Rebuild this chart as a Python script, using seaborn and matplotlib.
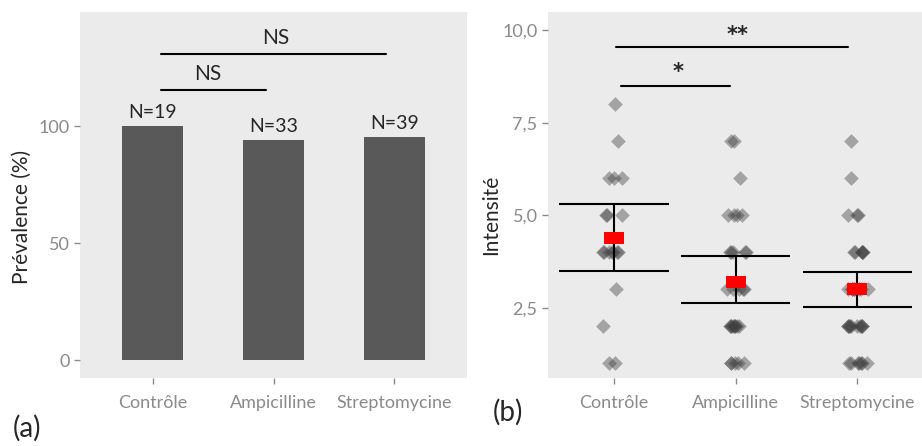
import numpy as np
import pandas as pd
import seaborn as sns
import matplotlib.pyplot as plt

groupes = ["Contrôle", "Ampicilline", "Streptomycine"]
prevalence = [100, 94, 95.4]
effectifs = ["N=19", "N=33", "N=39"]

# intensités (b)
int_controle = [8, 7, 6, 6, 6, 5, 5, 5, 4, 4, 4, 4, 4, 4, 4, 3, 2, 1, 1]
int_ampicilline = [7, 7, 6, 5, 5, 5, 5, 4, 4, 4, 4, 4, 3, 3, 3, 3, 3,
                   2, 2, 2, 2, 2, 2, 2, 2, 2, 1, 1, 1, 1, 1]
int_streptomycine = [7, 6, 5, 5, 5, 4, 4, 4, 4, 4, 4, 3, 3, 3, 3, 3, 3, 3, 3, 3,
                     2, 2, 2, 2, 2, 2, 2, 2, 2, 2, 1, 1, 1, 1, 1, 1, 1]
moyennes = [4.38, 3.2, 3.0]
ic_bas = [3.49, 2.62, 2.51]
ic_haut = [5.3, 3.89, 3.46]

sns.set_style("white")
plt.rcParams['font.family'] = ['Lato', 'DejaVu Sans']
gris = "#8a8a8a"
fond = "#ebebeb"

fig = plt.figure(figsize=(9.22, 4.46), dpi=100)
ax1 = fig.add_axes([80/922, 68/446, 387/922, 366/446])
ax2 = fig.add_axes([548/922, 68/446, 374/922, 366/446])

# (a) prévalence
dfa = pd.DataFrame({"groupe": groupes, "prev": prevalence})
sns.barplot(data=dfa, x="groupe", y="prev", color="#595959", width=0.5,
            saturation=1, linewidth=0, ax=ax1)
for i, (p, n) in enumerate(zip(prevalence, effectifs)):
    ax1.text(i, p + 2, n, ha="center", va="bottom", fontsize=14)
ax1.plot([0.07, 0.94], [115.4, 115.4], color="black", lw=1.5)
ax1.plot([0.07, 1.93], [130.8, 130.8], color="black", lw=1.5)
ax1.text(0.46, 118, "NS", ha="center", va="bottom", fontsize=15)
ax1.text(1.02, 133.5, "NS", ha="center", va="bottom", fontsize=15)
ax1.set_xlim(-0.6, 2.6)
ax1.set_ylim(-7.5, 148.7)
ax1.set_yticks([0, 50, 100])
ax1.set_ylabel("Prévalence (%)", fontsize=15)
ax1.yaxis.set_label_coords(-0.125, 0.44)
ax1.set_xlabel("")

# (b) intensité
dfb = pd.DataFrame({
    "groupe": ["Contrôle"] * len(int_controle) + ["Ampicilline"] * len(int_ampicilline)
              + ["Streptomycine"] * len(int_streptomycine),
    "intensite": int_controle + int_ampicilline + int_streptomycine,
})
np.random.seed(3)
sns.stripplot(data=dfb, x="groupe", y="intensite", order=groupes, marker="D",
              color="#404040", alpha=0.42, size=7.5, jitter=0.09, linewidth=0, ax=ax2)
xs = np.arange(len(groupes))
ax2.vlines(xs, ic_bas, ic_haut, color="black", lw=1.5, zorder=4)
ax2.hlines(ic_bas, xs - 0.45, xs + 0.45, color="black", lw=1.5, zorder=4)
ax2.hlines(ic_haut, xs - 0.45, xs + 0.45, color="black", lw=1.5, zorder=4)
rect = [(-1, -0.58), (1, -0.58), (1, 0.58), (-1, 0.58), (-1, -0.58)]
ax2.scatter(xs, moyennes, marker=rect, s=190, color="#ff0000", zorder=5, linewidth=0)
ax2.plot([0.02, 1.92], [9.54, 9.54], color="black", lw=1.5)
ax2.plot([0.06, 0.95], [8.51, 8.51], color="black", lw=1.5)
ax2.text(1.02, 9.62, "**", ha="center", va="bottom", fontsize=15,
         family="DejaVu Sans", fontweight="bold")
ax2.text(0.53, 8.6, "*", ha="center", va="bottom", fontsize=15,
         family="DejaVu Sans", fontweight="bold")
ax2.set_xlim(-0.54, 2.53)
ax2.set_ylim(0.6, 10.5)
ax2.set_yticks([2.5, 5, 7.5, 10])
ax2.set_yticklabels(["2,5", "5,0", "7,5", "10,0"])
ax2.set_ylabel("Intensité", fontsize=15)
ax2.yaxis.set_label_coords(-0.125, 0.445)
ax2.set_xlabel("")

for ax in (ax1, ax2):
    ax.set_facecolor(fond)
    sns.despine(ax=ax, left=True, bottom=True)
    ax.tick_params(axis="both", colors=gris, labelsize=13, length=4, width=1,
                   labelcolor=gris, left=True, bottom=True)
    ax.tick_params(axis="x", pad=8)

fig.text(27/922, 1 - 428/446, "(a)", fontsize=20, ha="center", va="center")
fig.text(508/922, 1 - 412/446, "(b)", fontsize=20, ha="center", va="center")

fig.savefig("out.png", dpi=100)
